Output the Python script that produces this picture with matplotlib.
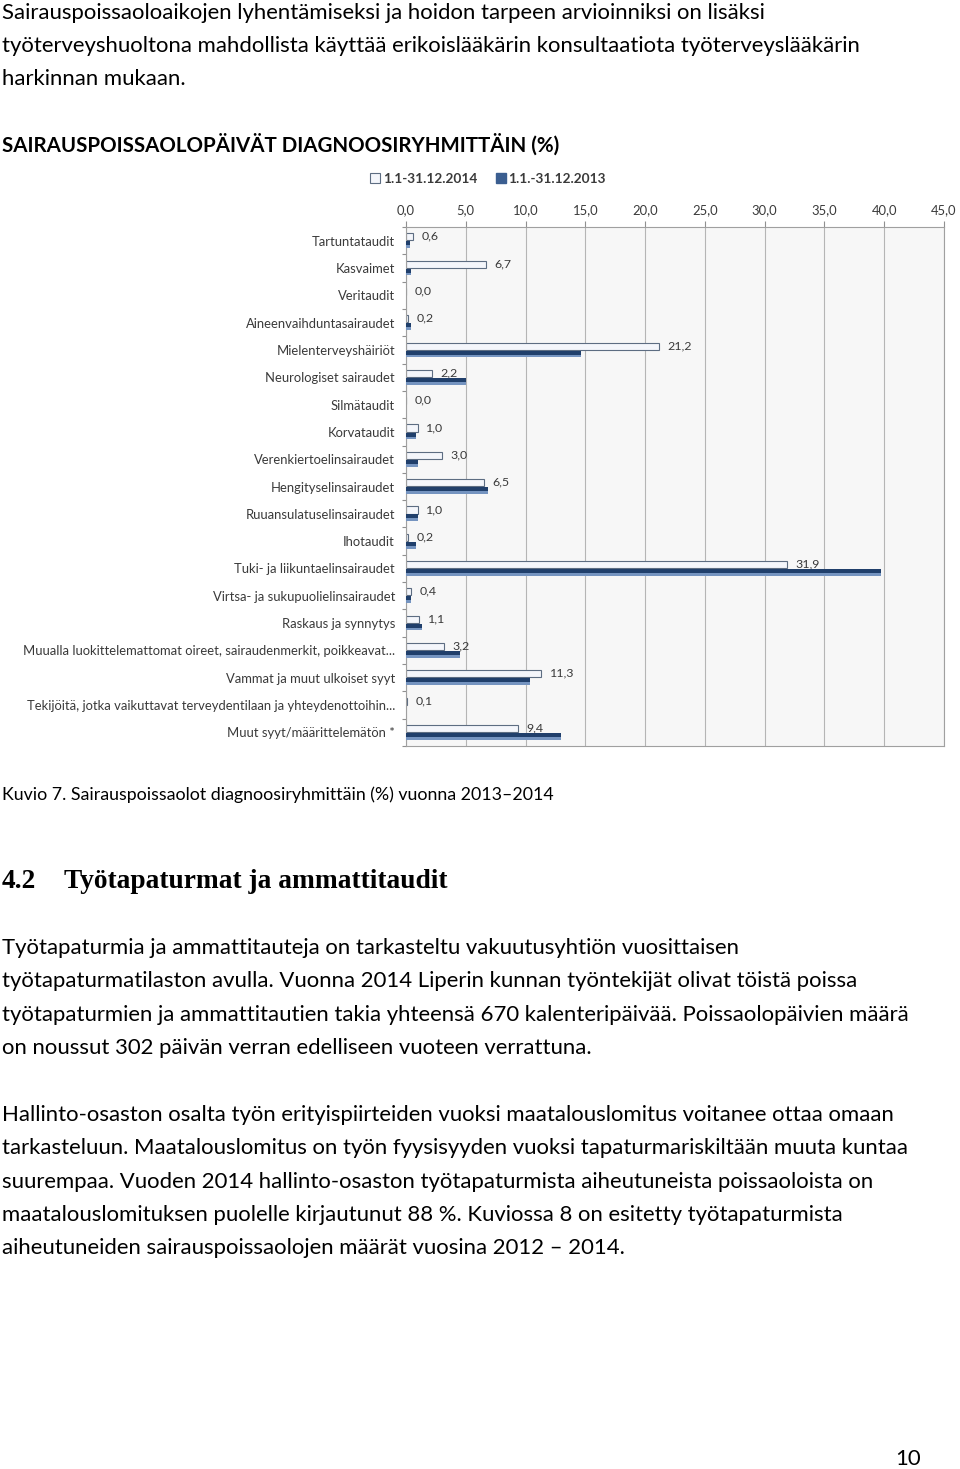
import numpy as np
import matplotlib
matplotlib.use("Agg")
import matplotlib.pyplot as plt
from matplotlib.patches import Patch
from matplotlib.ticker import FixedLocator

# data
categories = [
    "Tartuntataudit", "Kasvaimet", "Veritaudit", "Aineenvaihduntasairaudet",
    "Mielenterveyshäiriöt", "Neurologiset sairaudet", "Silmätaudit", "Korvataudit",
    "Verenkiertoelinsairaudet", "Hengityselinsairaudet", "Ruuansulatuselinsairaudet",
    "Ihotaudit", "Tuki- ja liikuntaelinsairaudet", "Virtsa- ja sukupuolielinsairaudet",
    "Raskaus ja synnytys",
    "Muualla luokittelemattomat oireet, sairaudenmerkit, poikkeavat...",
    "Vammat ja muut ulkoiset syyt",
    "Tekijöitä, jotka vaikuttavat terveydentilaan ja yhteydenottoihin...",
    "Muut syyt/määrittelemätön *",
]
v2014 = [0.6, 6.7, 0.0, 0.2, 21.2, 2.2, 0.0, 1.0, 3.0, 6.5, 1.0, 0.2, 31.9, 0.4, 1.1, 3.2, 11.3, 0.1, 9.4]
v2013 = [0.3, 0.4, 0.0, 0.4, 14.6, 5.0, 0.0, 0.8, 1.0, 6.9, 1.0, 0.8, 39.7, 0.4, 1.3, 4.5, 10.4, 0.0, 13.0]
xticks = [0, 5, 10, 15, 20, 25, 30, 35, 40, 45]
legend_labels = ["1.1-31.12.2014", "1.1.-31.12.2013"]

W, H = 960, 1469
SANS = ["Lato", "DejaVu Sans"]
SERIF = ["Liberation Serif", "DejaVu Serif"]

fig = plt.figure(figsize=(W / 100, H / 100), dpi=100)
fig.patch.set_facecolor("white")
renderer = fig.canvas.get_renderer()


def fit_size(text, width_px, family=SANS, weight="normal"):
    # font size that makes text span width_px pixels
    t = fig.text(0, 0, text, fontsize=10, family=family, weight=weight)
    w = t.get_window_extent(renderer).width
    t.remove()
    return 10 * width_px / w


def put(x, y, text, size, family=SANS, weight="normal", color="black", ha="left"):
    fig.text(x / W, 1 - y / H, text, fontsize=size, family=family, weight=weight,
             color=color, ha=ha, va="baseline")


# body text
body = fit_size("työtapaturmien ja ammattitautien takia yhteensä 670 kalenteripäivää. Poissaolopäivien määrä", 905)
top_lines = [
    "Sairauspoissaoloaikojen lyhentämiseksi ja hoidon tarpeen arvioinniksi on lisäksi",
    "työterveyshuoltona mahdollista käyttää erikoislääkärin konsultaatiota työterveyslääkärin",
    "harkinnan mukaan.",
]
for i, line in enumerate(top_lines):
    put(2, 19 + 33 * i, line, body)

head = fit_size("SAIRAUSPOISSAOLOPÄIVÄT DIAGNOOSIRYHMITTÄIN (%)", 559, weight="bold")
put(2, 152, "SAIRAUSPOISSAOLOPÄIVÄT DIAGNOOSIRYHMITTÄIN (%)", head, weight="bold")

cap = fit_size("Kuvio 7. Sairauspoissaolot diagnoosiryhmittäin (%) vuonna 2013–2014", 552)
put(2, 800, "Kuvio 7. Sairauspoissaolot diagnoosiryhmittäin (%) vuonna 2013–2014", cap)

h2 = fit_size("Työtapaturmat ja ammattitaudit", 384, family=SERIF, weight="bold")
put(2, 888, "4.2", h2, family=SERIF, weight="bold")
put(64, 888, "Työtapaturmat ja ammattitaudit", h2, family=SERIF, weight="bold")

par1 = [
    "Työtapaturmia ja ammattitauteja on tarkasteltu vakuutusyhtiön vuosittaisen",
    "työtapaturmatilaston avulla. Vuonna 2014 Liperin kunnan työntekijät olivat töistä poissa",
    "työtapaturmien ja ammattitautien takia yhteensä 670 kalenteripäivää. Poissaolopäivien määrä",
    "on noussut 302 päivän verran edelliseen vuoteen verrattuna.",
]
for i, line in enumerate(par1):
    put(2, 954 + 33.3 * i, line, body)

par2 = [
    "Hallinto-osaston osalta työn erityispiirteiden vuoksi maatalouslomitus voitanee ottaa omaan",
    "tarkasteluun. Maatalouslomitus on työn fyysisyyden vuoksi tapaturmariskiltään muuta kuntaa",
    "suurempaa. Vuoden 2014 hallinto-osaston työtapaturmista aiheutuneista poissaoloista on",
    "maatalouslomituksen puolelle kirjautunut 88 %. Kuviossa 8 on esitetty työtapaturmista",
    "aiheutuneiden sairauspoissaolojen määrät vuosina 2012 – 2014.",
]
for i, line in enumerate(par2):
    put(2, 1121 + 33.3 * i, line, body)

put(895, 1465, "10", body)

# chart
small = fit_size("Muualla luokittelemattomat oireet, sairaudenmerkit, poikkeavat...", 372)
gray_text = "#3a3a3a"

ax = fig.add_axes([406 / W, 1 - 746 / H, 538 / W, (746 - 227) / H])
ax.set_facecolor("#f7f7f7")
y = np.arange(len(categories))
ax.barh(y - 0.14, v2014, height=0.26, color="#f4f6fb", edgecolor="#5d6d82",
        linewidth=0.8, zorder=2)
# 2013 bars: dark top, lighter bottom to mimic the gradient
ax.barh(y + 0.10, v2013, height=0.15, color="#203f6b", zorder=3)
ax.barh(y + 0.22, v2013, height=0.10, color="#7594c0", zorder=3)

for yi, v in zip(y, v2014):
    ax.text(v + 0.7, yi - 0.16, f"{v:.1f}".replace(".", ","), fontsize=small * 0.95,
            family=SANS, color=gray_text, va="center", ha="left", zorder=2.5)

ax.set_xlim(0, 45)
ax.set_ylim(len(categories) - 0.5, -0.5)
ax.xaxis.tick_top()
ax.set_xticks(xticks)
ax.set_xticklabels([f"{t:.1f}".replace(".", ",") for t in xticks],
                   fontsize=small, family=SANS, color=gray_text)
ax.set_yticks(y)
ax.set_yticklabels(categories, fontsize=small, family=SANS, color=gray_text)
ax.yaxis.set_minor_locator(FixedLocator(np.arange(-0.5, len(categories), 1.0)))
ax.tick_params(axis="y", which="major", length=0, pad=8)
ax.tick_params(axis="y", which="minor", length=3, color="#909090", width=0.8)
ax.tick_params(axis="x", length=4, color="#909090", width=0.8, pad=4)
ax.grid(axis="x", color="#b5b5b5", linewidth=0.8, zorder=0)
ax.set_axisbelow(True)
for s in ax.spines.values():
    s.set_color("#a0a0a0")
    s.set_linewidth(0.8)

handles = [Patch(facecolor="#f4f6fb", edgecolor="#5d6d82", linewidth=0.8),
           Patch(facecolor="#3b5e90", edgecolor="#3b5e90")]
fig.legend(handles, legend_labels, loc="center left",
           bbox_to_anchor=(358 / W, 1 - 179 / H), ncol=2, frameon=False,
           handlelength=0.7, handleheight=0.7, handletextpad=0.2, columnspacing=1.4,
           prop={"family": SANS, "size": small * 1.05, "weight": "bold"}, labelcolor=gray_text)

fig.savefig("out.png", dpi=100, facecolor="white")
